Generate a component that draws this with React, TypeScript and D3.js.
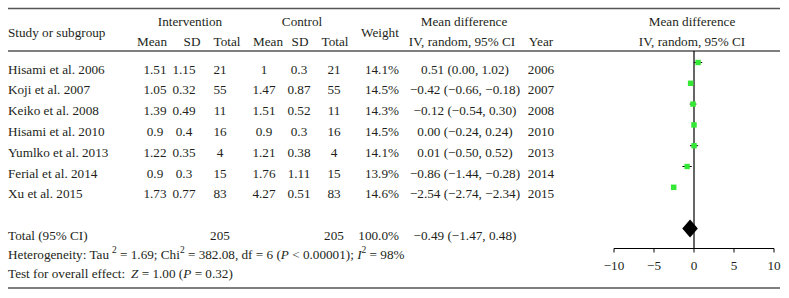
import React from "react";
import * as d3 from "d3";

const studies = ["Hisami et al. 2006", "Koji et al. 2007", "Keiko et al. 2008", "Hisami et al. 2010", "Yumlko et al. 2013", "Ferial et al. 2014", "Xu et al. 2015"];
const intMean = ["1.51", "1.05", "1.39", "0.9", "1.22", "0.9", "1.73"];
const intSD = ["1.15", "0.32", "0.49", "0.4", "0.35", "0.3", "0.77"];
const intTotal = ["21", "55", "11", "16", "4", "15", "83"];
const ctlMean = ["1", "1.47", "1.51", "0.9", "1.21", "1.76", "4.27"];
const ctlSD = ["0.3", "0.87", "0.52", "0.3", "0.38", "1.11", "0.51"];
const ctlTotal = ["21", "55", "11", "16", "4", "15", "83"];
const weights = [14.1, 14.5, 14.3, 14.5, 14.1, 13.9, 14.6];
const md = [0.51, -0.42, -0.12, 0.0, 0.01, -0.86, -2.54];
const lo = [0.0, -0.66, -0.54, -0.24, -0.5, -1.44, -2.74];
const hi = [1.02, -0.18, 0.3, 0.24, 0.52, -0.28, -2.34];
const years = ["2006", "2007", "2008", "2010", "2013", "2014", "2015"];
const total = { n1: "205", n2: "205", weight: "100.0%", md: -0.49, lo: -1.47, hi: 0.48 };
const axisTicks = [-10, -5, 0, 5, 10];

const fmt = (v: number) => (v < 0 ? "\u2212" : "") + Math.abs(v).toFixed(2);
const ciText = (m: number, l: number, h: number) => `${fmt(m)} (${fmt(l)}, ${fmt(h)})`;

export default function App() {
  const W = 789, H = 298;
  const font = "'Liberation Serif', 'Times New Roman', serif";
  const fs = 13.2;
  const col = "#231f20";
  const x = d3.scaleLinear().domain([-10, 10]).range([614, 774]);
  const y = d3.scaleLinear().domain([0, 6]).range([69, 193.8]);
  const totalY = 235;
  const markOff = -6.5;
  const axisY = 248.5;
  const size = d3.scaleSqrt().domain([0, 14.6]).range([0, 5.5]);

  const cols = [
    { x: 155, data: intMean },
    { x: 184, data: intSD },
    { x: 220, data: intTotal },
    { x: 264, data: ctlMean },
    { x: 299, data: ctlSD },
    { x: 334, data: ctlTotal },
  ];

  const T = (props: any) => (
    <text fontFamily={font} fontSize={fs} fill={col} dominantBaseline="central" {...props} />
  );

  return (
    <svg width={W} height={H} style={{ position: "absolute", left: 0, top: 0 }}>
      <rect width={W} height={H} fill="#fff" />
      {/* rules */}
      <line x1={8} x2={780} y1={8.5} y2={8.5} stroke="#555" strokeWidth={1.3} />
      <line x1={8} x2={780} y1={51} y2={51} stroke="#555" strokeWidth={1.3} />
      <line x1={8} x2={780} y1={288} y2={288} stroke="#555" strokeWidth={1.3} />

      {/* headers */}
      <T x={8} y={32}>Study or subgroup</T>
      <T x={190} y={21} textAnchor="middle">Intervention</T>
      <T x={302} y={21} textAnchor="middle">Control</T>
      {[["Mean", 152], ["SD", 192], ["Total", 227], ["Mean", 268], ["SD", 300], ["Total", 335]].map(([t, cx], i) => (
        <T key={i} x={cx} y={41} textAnchor="middle">{t}</T>
      ))}
      <T x={380} y={32} textAnchor="middle">Weight</T>
      <T x={464} y={21} textAnchor="middle">Mean difference</T>
      <T x={462} y={41} textAnchor="middle">IV, random, 95% CI</T>
      <T x={541} y={41} textAnchor="middle">Year</T>
      <T x={692} y={21} textAnchor="middle">Mean difference</T>
      <T x={692} y={41} textAnchor="middle">IV, random, 95% CI</T>

      {/* study rows */}
      {studies.map((s, i) => (
        <g key={s}>
          <T x={8} y={y(i)}>{s}</T>
          {cols.map((c, j) => (
            <T key={j} x={c.x} y={y(i)} textAnchor="middle">{c.data[i]}</T>
          ))}
          <T x={399} y={y(i)} textAnchor="end">{weights[i].toFixed(1)}%</T>
          <T x={465} y={y(i)} textAnchor="middle">{ciText(md[i], lo[i], hi[i])}</T>
          <T x={541} y={y(i)} textAnchor="middle">{years[i]}</T>
        </g>
      ))}

      {/* total row */}
      <T x={8} y={totalY}>Total (95% CI)</T>
      <T x={220} y={totalY} textAnchor="middle">{total.n1}</T>
      <T x={334} y={totalY} textAnchor="middle">{total.n2}</T>
      <T x={399} y={totalY} textAnchor="end">{total.weight}</T>
      <T x={465} y={totalY} textAnchor="middle">{ciText(total.md, total.lo, total.hi)}</T>

      <T x={8} y={254}>
        Heterogeneity: Tau<tspan dx={3} dy={-4} fontSize={9.5}>2</tspan>
        <tspan dy={4}> = 1.69; Chi</tspan>
        <tspan dy={-4} fontSize={9.5}>2</tspan>
        <tspan dy={4}> = 382.08, df = 6 (</tspan>
        <tspan fontStyle="italic">P</tspan>
        <tspan>{" < 0.00001); "}</tspan>
        <tspan fontStyle="italic">I</tspan>
        <tspan dy={-4} fontSize={9.5}>2</tspan>
        <tspan dy={4}> = 98%</tspan>
      </T>
      <T x={8} y={273}>
        Test for overall effect:<tspan dx={6} fontStyle="italic">Z</tspan>
        <tspan> = 1.00 (</tspan>
        <tspan fontStyle="italic">P</tspan>
        <tspan> = 0.32)</tspan>
      </T>

      {/* forest plot */}
      <line x1={x(0)} x2={x(0)} y1={51} y2={axisY} stroke="#000" strokeWidth={1.2} />
      {studies.map((s, i) => {
        const cy = y(i) + markOff;
        const sz = size(weights[i]);
        return (
          <g key={"m" + i}>
            <line x1={x(lo[i])} x2={x(hi[i])} y1={cy} y2={cy} stroke="#000" strokeWidth={1} />
            <rect x={x(md[i]) - sz / 2} y={cy - sz / 2} width={sz} height={sz} fill="#35e835" />
          </g>
        );
      })}
      <path
        d={`M${x(total.lo)},${totalY + markOff} L${x(total.md)},${totalY + markOff - 9} L${x(total.hi)},${totalY + markOff} L${x(total.md)},${totalY + markOff + 9} Z`}
        fill="#000"
      />
      {/* axis */}
      <line x1={x(-10)} x2={x(10)} y1={axisY} y2={axisY} stroke="#000" strokeWidth={1} />
      {axisTicks.map((t) => (
        <g key={t}>
          <line x1={x(t)} x2={x(t)} y1={axisY} y2={axisY + 4} stroke="#000" strokeWidth={1} />
          <T x={x(t)} y={265} textAnchor="middle">{t < 0 ? "\u2212" + Math.abs(t) : String(t)}</T>
        </g>
      ))}
    </svg>
  );
}
